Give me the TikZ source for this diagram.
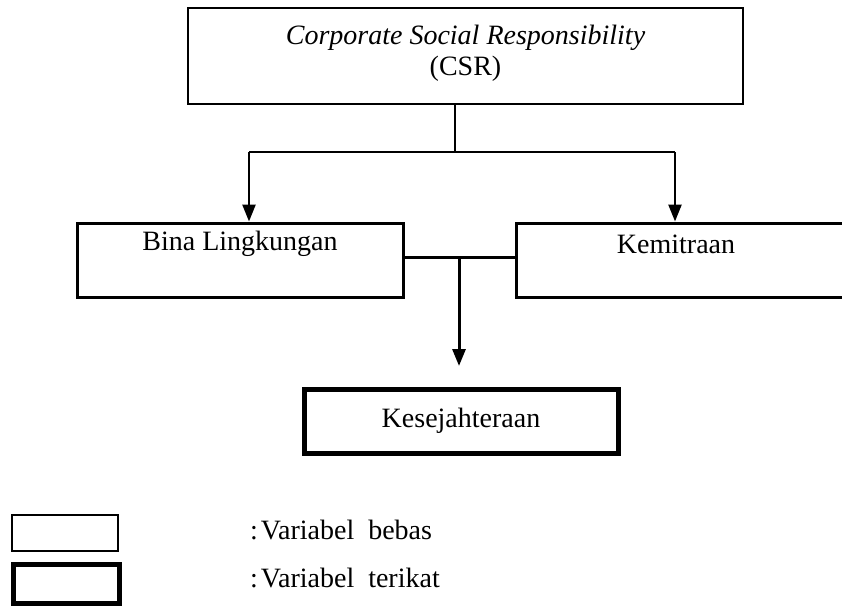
\documentclass[tikz,border=0pt]{standalone}
\usepackage{fontspec}
\setmainfont{Liberation Serif}
\usetikzlibrary{arrows.meta}
\begin{document}
\begin{tikzpicture}[x=1pt,y=-1pt,
  box/.style={draw,rectangle,inner sep=0pt},
  lbl/.style={font=\fontsize{28}{33}\selectfont,inner sep=0pt},
  conn/.style={line width=2pt},
  arr/.style={line width=2.5pt,-{Triangle[length=17pt,width=13pt]}}]
\useasboundingbox (0,0) rectangle (842,606);
\clip (0,0) rectangle (842,606);
% boxes
\node[box,line width=2pt,minimum width=555pt,minimum height=96pt] (csr) at (465.5,56) {};
\node[lbl,align=center] (csrt) at (465.5,53)
  {\textit{Corporate Social Responsibility}\\[-2pt](CSR)};
\node[box,line width=3pt,minimum width=326pt,minimum height=74pt] (bina) at (240,260) {};
\node[box,line width=3pt,minimum width=364pt,minimum height=74pt] (kem) at (698,260) {};
\node[box,line width=5pt,minimum width=314pt,minimum height=64pt] (kes) at (461,421) {};
\node[lbl] (binat) at (240,244) {Bina Lingkungan};
\node[lbl] (kemt) at (676,244) {Kemitraan};
\node[lbl] (kest) at (461,421) {Kesejahteraan};
% connectors
\coordinate (j) at (455,152);
\coordinate (hl) at (249,152);
\coordinate (hr) at (675,152);
\draw[conn] (csr.south -| j) -- (j);
\draw[conn] (hl) -- (hr);
\draw[arr] (hl) -- (bina.north -| hl);
\draw[arr] (hr) -- (kem.north -| hr);
\coordinate (m) at (459,257);
\coordinate (mt) at (459,366);
\draw[line width=3pt] (bina.east |- m) -- (kem.west |- m);
\draw[arr,line width=3pt] (m) -- (mt);
% legend
\node[box,line width=1.5pt,minimum width=106pt,minimum height=36pt] (lg1) at (65,533) {};
\node[box,line width=5pt,minimum width=106pt,minimum height=39pt] (lg2) at (66,583.5) {};
\node[lbl,anchor=west] (lt1) at (250,530) {:\kern3pt Variabel\ \ bebas};
\node[lbl,anchor=west] (lt2) at (250,578) {:\kern3pt Variabel\ \ terikat};
\end{tikzpicture}
\end{document}
